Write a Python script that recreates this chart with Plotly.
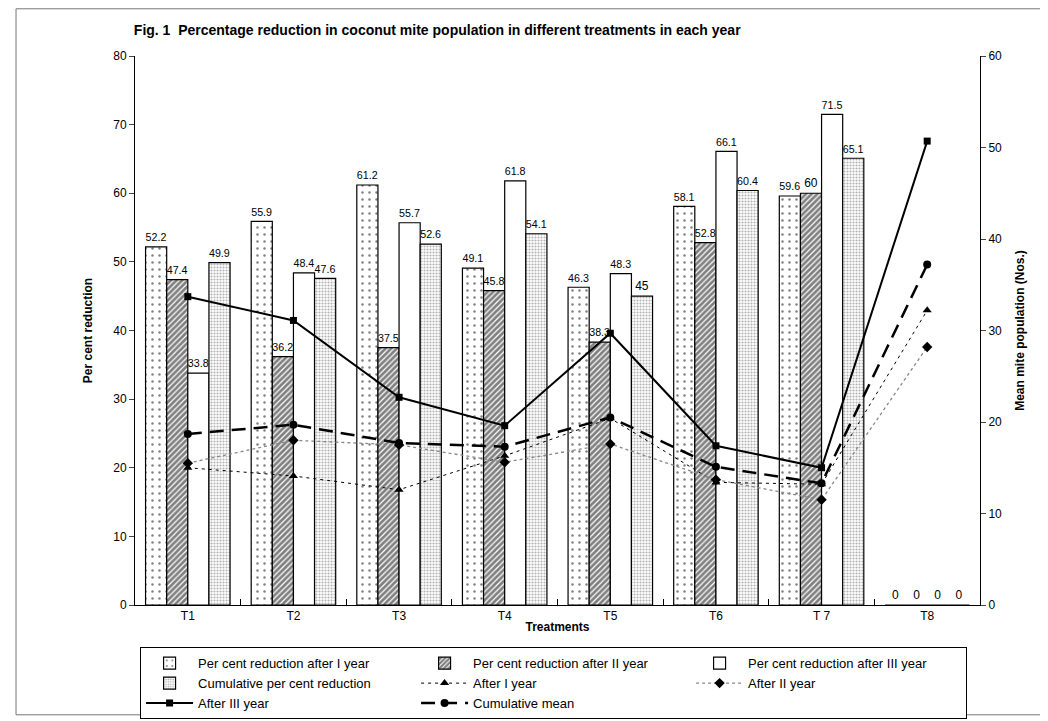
import plotly.graph_objects as go

categories = ["T1", "T2", "T3", "T4", "T5", "T6", "T 7", "T8"]

red_year1 = [52.2, 55.9, 61.2, 49.1, 46.3, 58.1, 59.6, 0]
red_year2 = [47.4, 36.2, 37.5, 45.8, 38.3, 52.8, 60, 0]
red_year3 = [33.8, 48.4, 55.7, 61.8, 48.3, 66.1, 71.5, 0]
red_cumulative = [49.9, 47.6, 52.6, 54.1, 45, 60.4, 65.1, 0]

pop_year1 = [15.0, 14.1, 12.6, 16.3, 20.4, 13.4, 13.2, 32.2]
pop_year2 = [15.5, 18.0, 17.5, 15.6, 17.6, 13.7, 11.5, 28.2]
pop_year3 = [33.7, 31.1, 22.7, 19.6, 29.7, 17.4, 15.0, 50.7]
pop_cumulative = [18.7, 19.7, 17.7, 17.3, 20.5, 15.1, 13.3, 37.2]

FONT = "Liberation Sans, Arial, sans-serif"


def fmt(v):
    return f"{v:g}"


fig = go.Figure()

bar_specs = [
    ("Per cent reduction after I year", red_year1,
     dict(shape=".", fgcolor="black", bgcolor="white", size=7, solidity=0.1)),
    ("Per cent reduction after II year", red_year2,
     dict(shape="/", fgcolor="black", bgcolor="white", size=4, solidity=0.7)),
    ("Per cent reduction after III year", red_year3, None),
    ("Cumulative per cent reduction", red_cumulative,
     dict(shape=".", fgcolor="#666666", bgcolor="white", size=3, solidity=0.4)),
]

for name, vals, pat in bar_specs:
    marker = dict(color="white", line=dict(color="black", width=1.2))
    if pat is not None:
        marker["pattern"] = pat
    fig.add_trace(go.Bar(
        x=categories, y=vals, name=name, marker=marker,
        text=[fmt(v) for v in vals], textposition="outside",
        textfont=dict(size=12, color="black", family=FONT),
        cliponaxis=False, yaxis="y",
    ))

line_specs = [
    ("After I year", pop_year1, dict(color="black", width=1, dash="3px,4px"),
     dict(symbol="triangle-up", size=8, color="black")),
    ("After II year", pop_year2, dict(color="#888888", width=1.3, dash="dot"),
     dict(symbol="diamond", size=8, color="black")),
    ("After III year", pop_year3, dict(color="black", width=2),
     dict(symbol="square", size=7, color="black")),
    ("Cumulative mean", pop_cumulative, dict(color="black", width=2.5, dash="14px,8px"),
     dict(symbol="circle", size=8, color="black")),
]

for name, vals, line, marker in line_specs:
    fig.add_trace(go.Scatter(
        x=categories, y=vals, name=name, mode="lines+markers",
        line=line, marker=marker, yaxis="y2",
    ))

fig.update_layout(
    width=1040, height=713,
    margin=dict(l=127, r=68, t=48, b=116, autoexpand=False),
    paper_bgcolor="white", plot_bgcolor="white",
    font=dict(family=FONT, size=12, color="black"),
    barmode="group", bargap=0.2, bargroupgap=0,
    title=dict(text="<b>Fig. 1  Percentage reduction in coconut mite population in different treatments in each year</b>",
               x=0.121, xanchor="left", y=0.969, yanchor="middle",
               font=dict(size=14, family=FONT)),
    xaxis=dict(type="category", showline=True, linecolor="black", linewidth=1,
               ticks="inside", tickson="boundaries", ticklen=6, tickcolor="black",
               title=dict(text="<b>Treatments</b>", standoff=0, font=dict(size=12)),
               tickfont=dict(size=12)),
    yaxis=dict(range=[0, 80], dtick=10, showline=True, linecolor="black", linewidth=1,
               ticks="outside", ticklen=5, showgrid=False, zeroline=False,
               title=dict(text="<b>Per cent reduction</b>", font=dict(size=12), standoff=18),
               tickfont=dict(size=12)),
    yaxis2=dict(range=[0, 60], dtick=10, overlaying="y", side="right", showline=True,
                linecolor="black", linewidth=1, ticks="outside", ticklen=5,
                showgrid=False, zeroline=False,
                title=dict(text="<b>Mean mite population (Nos.)</b>", font=dict(size=12), standoff=14),
                tickfont=dict(size=12)),
    legend=dict(orientation="h", x=0.006, xanchor="left", y=-0.077, yanchor="top",
                bordercolor="black", borderwidth=1, bgcolor="white",
                entrywidth=213, entrywidthmode="pixels", tracegroupgap=0,
                font=dict(size=13), itemwidth=47),
    shapes=[dict(type="rect", xref="paper", yref="paper", x0=-0.1408, x1=1.0805,
                 y0=-0.2, y1=1.086, line=dict(color="#777777", width=1))],
)

fig.write_html("out.html")
